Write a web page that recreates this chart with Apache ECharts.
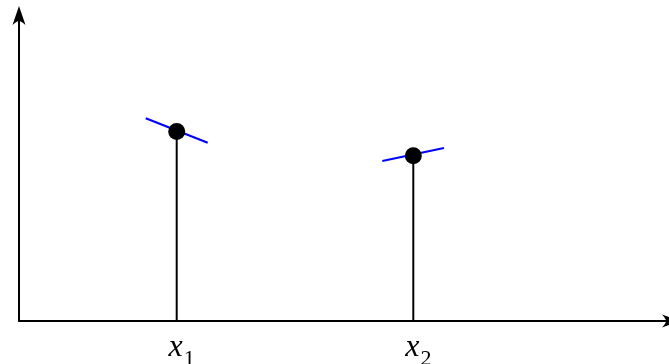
<!DOCTYPE html>
<html>
<head>
<meta charset="utf-8">
<script src="https://cdn.jsdelivr.net/npm/echarts@6/dist/echarts.min.js"></script>
<style>html,body{margin:0;padding:0;background:#fff}#c{width:669px;height:364px}</style>
</head>
<body>
<div id="c"></div>
<script>
const pointX = [2.417, 6.043];
const pointY = [6.2, 5.411];
const pointLabels = ['1', '2'];
const tangentX = [[1.942, 2.892], [5.568, 6.513]];
const tangentY = [[6.635, 5.836], [5.237, 5.663]];

const arrow = 'path://M6.5,0 L13,19 Q8.5,15 6.5,15 Q4.5,15 0,19 Z';

const series = [];
pointX.forEach((x, i) => {
  series.push({
    type: 'line', data: [[x, 0], [x, pointY[i]]], symbol: 'none', silent: true,
    lineStyle: { color: '#000', width: 2 }, z: 2
  });
  series.push({
    type: 'line', data: [[tangentX[i][0], tangentY[i][0]], [tangentX[i][1], tangentY[i][1]]],
    symbol: 'none', silent: true, lineStyle: { color: '#0000ff', width: 2.2 }, z: 3
  });
});
series.push({
  type: 'scatter', data: pointX.map((x, i) => [x, pointY[i]]), symbolSize: 17,
  itemStyle: { color: '#000', opacity: 1 }, z: 4
});

const chart = echarts.init(document.getElementById('c'), null, { renderer: 'canvas' });
chart.setOption({
  animation: false,
  grid: { left: 19, right: -2.5, top: 15.5, bottom: 43, containLabel: false, outerBoundsMode: 'none' },
  xAxis: {
    type: 'value', min: 0, max: 10,
    splitLine: { show: false },
    axisLine: { show: true, lineStyle: { color: '#000', width: 2 }, symbol: ['none', arrow], symbolSize: [13, 19] },
    axisTick: { show: false },
    axisLabel: {
      show: true, customValues: pointX, margin: 11, padding: [0, 0, 0, 10],
      formatter: (v) => {
        const i = pointX.indexOf(v);
        return '{a|x}{b|' + (i >= 0 ? pointLabels[i] : '') + '}';
      },
      rich: {
        a: { fontFamily: 'Liberation Serif', fontStyle: 'italic', fontSize: 32, lineHeight: 32, verticalAlign: 'top', color: '#000' },
        b: { fontFamily: 'Liberation Serif', fontSize: 22, lineHeight: 22, verticalAlign: 'top', padding: [16, 0, 0, 1], color: '#000' }
      }
    }
  },
  yAxis: {
    type: 'value', min: 0, max: 10,
    splitLine: { show: false },
    axisLine: { show: true, lineStyle: { color: '#000', width: 2 }, symbol: ['none', arrow], symbolSize: [13, 19] },
    axisTick: { show: false },
    axisLabel: { show: false }
  },
  series: series
});
</script>
</body>
</html>
